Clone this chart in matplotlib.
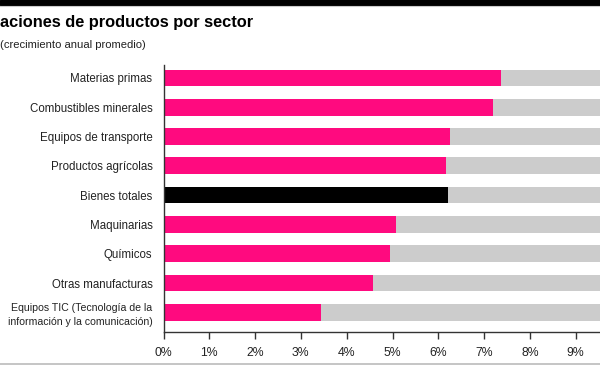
import matplotlib
matplotlib.use("Agg")
import matplotlib.pyplot as plt
from matplotlib.patches import Rectangle
from matplotlib.lines import Line2D

categories = ["Materias primas", "Combustibles minerales", "Equipos de transporte",
              "Productos agrícolas", "Bienes totales", "Maquinarias", "Químicos",
              "Otras manufacturas",
              "Equipos TIC (Tecnología de la\ninformación y la comunicación)"]
values = [7.37, 7.19, 6.26, 6.17, 6.21, 5.07, 4.94, 4.57, 3.44]
highlight = "Bienes totales"
xticks = [0, 1, 2, 3, 4, 5, 6, 7, 8, 9]
xtick_labels = [f"{t}%" for t in xticks]
x_max = 10
title = "aciones de productos por sector"
subtitle = "(crecimiento anual promedio)"

FONT = ["Liberation Sans", "DejaVu Sans"]
plt.rcParams["font.family"] = FONT

W, H = 600, 365
fig = plt.figure(figsize=(W / 100, H / 100), dpi=100)

def fx(px):
    return px / W

def fy(py):
    return 1 - py / H

# top black band
fig.patches.append(Rectangle((0, fy(4.5)), 1, 4.5 / H, transform=fig.transFigure,
                             color="black", zorder=0))
fig.lines.append(Line2D([0, 1], [fy(5.5), fy(5.5)], transform=fig.transFigure,
                        color="#cccccc", lw=0.8))
# bottom gray line
fig.lines.append(Line2D([0, 1], [fy(363.5), fy(363.5)], transform=fig.transFigure,
                        color="#bbbbbb", lw=1.2))

fig.text(fx(0), fy(23), title, fontsize=11.8, fontweight="bold", ha="left",
         va="center", color="black")
fig.text(fx(0), fy(45), subtitle, fontsize=8.1, ha="left", va="center", color="#222222")

x0, x10 = 163.5, 163.5 + 45.8 * x_max
top, bot = 65, 332
ax = fig.add_axes([fx(x0), fy(bot), (x10 - x0) / W, (bot - top) / H])

n = len(categories)
ypos = list(range(n))
colors = ["black" if c == highlight else "#ff0a7f" for c in categories]
ax.barh(ypos, [x_max] * n, height=0.57, color="#cccccc", zorder=1)
ax.barh(ypos, values, height=0.57, color=colors, zorder=2)

ax.set_xlim(0, x_max)
ax.set_ylim(n - 1 + 0.67, -0.44)
ax.set_yticks(ypos)
ax.set_yticklabels(categories, fontsize=8.3, color="#222222", linespacing=1.5)
ax.get_yticklabels()[-1].set_fontsize(7.6)
ax.set_xticks(xticks)
ax.set_xticklabels(xtick_labels, fontsize=8.8, color="#222222")
ax.tick_params(axis="y", length=0, pad=8)
ax.tick_params(axis="x", length=5, width=1, color="#333333", pad=6)
for s in ["top", "right"]:
    ax.spines[s].set_visible(False)
for s in ["left", "bottom"]:
    ax.spines[s].set_color("#333333")
    ax.spines[s].set_linewidth(1)
    ax.spines[s].set_zorder(3)

fig.savefig("out.png", dpi=100)
